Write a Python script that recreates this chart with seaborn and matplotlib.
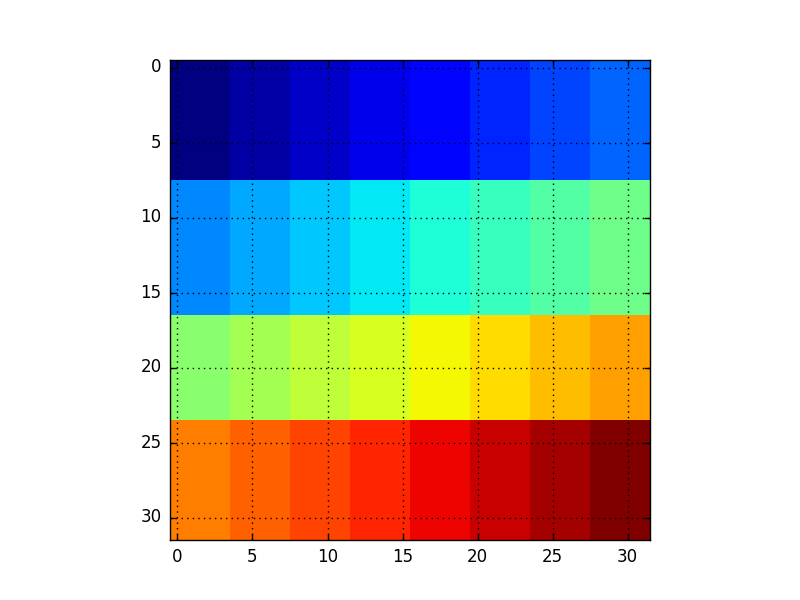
import numpy as np
import pandas as pd
import matplotlib
matplotlib.use('Agg')
import matplotlib.pyplot as plt
import seaborn as sns

# block layout of the 32x32 image
row_group_sizes = [8, 9, 7, 8]
col_group_sizes = [4, 4, 4, 4, 4, 4, 4, 4]
block_values = [
    [0, 1, 2, 3, 4, 5, 6, 7],
    [8, 9, 10, 11, 12, 13, 14, 15],
    [16, 17, 18, 19, 20, 21, 22, 23],
    [24, 25, 26, 27, 28, 29, 30, 31],
]
tick_labels = [0, 5, 10, 15, 20, 25, 30]

img = np.repeat(np.repeat(np.array(block_values), row_group_sizes, axis=0),
                col_group_sizes, axis=1)
df = pd.DataFrame(img)

sns.set_style('white')
plt.rcParams['font.family'] = ['DejaVu Sans']

fig, ax = plt.subplots(figsize=(8, 6), dpi=100)
sns.heatmap(df, cmap='jet', cbar=False, ax=ax, square=True,
            vmin=0, vmax=31, linewidths=0)

ticks = [t + 0.5 for t in tick_labels]
ax.set_xticks(ticks)
ax.set_xticklabels(tick_labels, rotation=0, fontsize=12)
ax.set_yticks(ticks)
ax.set_yticklabels(tick_labels, rotation=0, fontsize=12)
ax.set_xlim(0, 32)
ax.set_ylim(32, 0)
ax.tick_params(direction='in', length=4, width=1, top=True, right=True,
               bottom=True, left=True, color='black', labelcolor='black', pad=6)
ax.grid(True, color='black', linestyle=(0, (1, 3)), linewidth=1)
ax.set_axisbelow(False)
for s in ax.spines.values():
    s.set_visible(True)
    s.set_color('black')
    s.set_linewidth(1)
ax.set_xlabel('')
ax.set_ylabel('')

fig.subplots_adjust(left=0.125, right=0.9, bottom=0.1, top=0.9)
plt.savefig('out.png', dpi=100)
plt.close()
